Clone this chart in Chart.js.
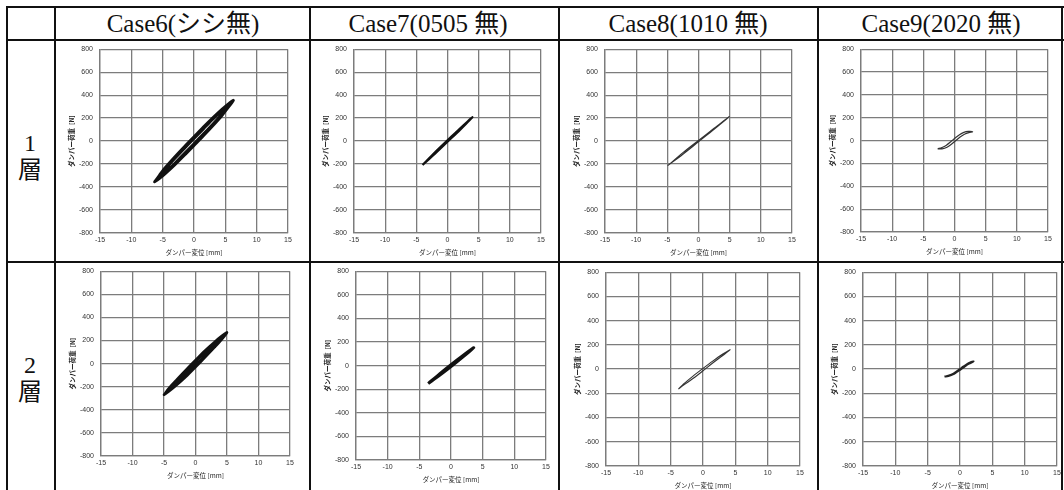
<!DOCTYPE html>
<html>
<head>
<meta charset="utf-8">
<script src="https://cdn.jsdelivr.net/npm/chart.js@4.4.0/dist/chart.umd.min.js"></script>
<style>
  body { margin: 0; background: #fff; width: 1064px; height: 490px; overflow: hidden; position: relative;
         font-family: "Liberation Serif", "Noto Sans CJK JP", serif; color: #111; }
  .ln { position: absolute; background: #111; }
  .hd { position: absolute; top: 8px; height: 32px; line-height: 32px; font-size: 25px;
        transform: translateX(-50%); white-space: nowrap; }
  .rl { position: absolute; width: 40px; margin-left: -20px; text-align: center; font-size: 24px; line-height: 26px; }
  canvas { position: absolute; }
</style>
</head>
<body>
<div class="ln" style="left:6px;top:6px;width:1058px;height:2px"></div>
<div class="ln" style="left:6px;top:39px;width:1058px;height:2px"></div>
<div class="ln" style="left:6px;top:261px;width:1058px;height:2px"></div>
<div class="ln" style="left:6px;top:6px;width:2px;height:484px"></div>
<div class="ln" style="left:54px;top:6px;width:2px;height:484px"></div>
<div class="ln" style="left:309px;top:6px;width:2px;height:484px"></div>
<div class="ln" style="left:558px;top:6px;width:2px;height:484px"></div>
<div class="ln" style="left:817px;top:6px;width:2px;height:484px"></div>
<div class="ln" style="left:1061px;top:6px;width:2px;height:484px"></div>

<div class="hd" style="left:183px">Case6(シシ無)</div>
<div class="hd" style="left:428px">Case7(0505 無)</div>
<div class="hd" style="left:688px">Case8(1010 無)</div>
<div class="hd" style="left:941px">Case9(2020 無)</div>

<div class="rl" style="left:30px;top:130px">1</div>
<div class="rl" style="left:30px;top:157px">層</div>
<div class="rl" style="left:30px;top:352px">2</div>
<div class="rl" style="left:30px;top:379px">層</div>

<script>
// 軸
const xTicks = [-15, -10, -5, 0, 5, 10, 15];
const yTicks = [-800, -600, -400, -200, 0, 200, 400, 600, 800];
const xTitle = "ダンパー変位 [mm]";
const yTitle = "ダンパー荷重  [N]";

// 1層
const case6L1X = [-6.3, -5.5, -4.5, -3, -1.5, 0, 1.5, 3, 4.5, 5.5, 6.3, 5.5, 4.5, 3, 1.5, 0, -1.5, -3, -4.5, -5.5, -6.3,
                  -5.8, -4.5, -3, -1.5, 0, 1.5, 3, 4.5, 5.8, 4.5, 3, 1.5, 0, -1.5, -3, -4.5, -5.8];
const case6L1Y = [-355, -295, -225, -133, -46, 38, 122, 203, 279, 325, 355, 295, 225, 133, 46, -38, -122, -203, -279, -325, -355,
                  -330, -240, -148, -62, 22, 106, 190, 266, 330, 240, 148, 62, -22, -106, -190, -266, -330];
const case7L1X = [-4, -2, 0, 2, 4, 2, 0, -2, -4];
const case7L1Y = [-208, -98, 6, 110, 208, 98, -6, -110, -208];
const case8L1X = [-4.95, -2.5, 0, 2.5, 4.95, 2.5, 0, -2.5, -4.95];
const case8L1Y = [-214, -100, 6, 112, 214, 102, -6, -114, -214];
const case9L1X = [-2.7, -2.0, -1.2, -0.5, 0.2, 0.9, 1.6, 2.3, 2.9, 2.2, 1.5, 0.8, 0.1, -0.6, -1.3, -2.0, -2.7];
const case9L1Y = [-72, -72, -58, -32, 0, 32, 56, 70, 77, 80, 72, 52, 22, -10, -40, -60, -72];

// 2層
const case6L2X = [-5, -4.2, -3, -1.5, 0, 1.5, 3, 4.2, 5, 4.2, 3, 1.5, 0, -1.5, -3, -4.2, -5,
                  -4.6, -3, -1.5, 0, 1.5, 3, 4.6, 3, 1.5, 0, -1.5, -3, -4.6];
const case6L2Y = [-270, -212, -140, -54, 30, 112, 186, 240, 270, 212, 140, 54, -30, -112, -186, -240, -270,
                  -250, -150, -67, 16, 97, 174, 250, 150, 67, -16, -97, -174, -250];
const case7L2X = [-3.6, -1.8, 0, 1.8, 3.6, 1.8, 0, -1.8, -3.6];
const case7L2Y = [-152, -70, 8, 82, 152, 70, -8, -82, -152];
const case8L2X = [-3.8, -3, -1.5, 0, 1.5, 3, 4.2, 3, 1.5, 0, -1.5, -3, -3.8];
const case8L2Y = [-165, -122, -56, 6, 66, 122, 160, 110, 50, -14, -76, -132, -165];
const case9L2X = [-2.4, -1.8, -1.0, -0.4, 0, 0.5, 1.1, 1.6, 2.1, 1.6, 1.1, 0.5, 0, -0.5, -1.1, -1.8, -2.4];
const case9L2Y = [-62, -55, -38, -15, 0, 20, 42, 55, 63, 50, 36, 12, -6, -24, -44, -58, -62];

// 配置 [左, 上, 右, 下] (プロット領域)
const panels = [
  { x: case6L1X, y: case6L1Y, box: [100, 46, 288, 233], lw: 2.8, col: "#111" },
  { x: case7L1X, y: case7L1Y, box: [354, 46, 541, 233], lw: 2.2, col: "#111" },
  { x: case8L1X, y: case8L1Y, box: [605, 46, 792, 233], lw: 1.1, col: "#333" },
  { x: case9L1X, y: case9L1Y, box: [861, 46, 1048, 232], lw: 1.2, col: "#333" },
  { x: case6L2X, y: case6L2Y, box: [101, 268, 290, 456], lw: 2.6, col: "#111" },
  { x: case7L2X, y: case7L2Y, box: [356, 268, 546, 460], lw: 3, col: "#111" },
  { x: case8L2X, y: case8L2Y, box: [606, 269, 800, 466], lw: 1.1, col: "#333" },
  { x: case9L2X, y: case9L2Y, box: [863, 269, 1057, 466], lw: 2, col: "#222" }
];

const L = 34, T = 8, R = 12, B = 25;
const GRID = "#7c7c7c";

panels.forEach(p => {
  const [x0, y0, x1, y1] = p.box;
  const cv = document.createElement("canvas");
  cv.width = x1 - x0 + L + R;
  cv.height = y1 - y0 + T + B;
  cv.style.left = (x0 - L) + "px";
  cv.style.top = (y0 - T) + "px";
  document.body.appendChild(cv);

  const pts = p.x.map((v, i) => ({ x: v, y: p.y[i] }));

  new Chart(cv.getContext("2d"), {
    type: "scatter",
    data: {
      datasets: [{
        data: pts,
        showLine: true,
        borderColor: p.col,
        borderWidth: p.lw,
        pointRadius: 0,
        tension: 0.3
      }]
    },
    options: {
      responsive: false,
      animation: false,
      layout: { padding: { top: T, right: R, left: 0, bottom: 0 } },
      plugins: { legend: { display: false }, tooltip: { enabled: false } },
      scales: {
        x: {
          min: -15, max: 15,
          afterFit: s => { s.height = B; },
          afterBuildTicks: s => { s.ticks = xTicks.map(v => ({ value: v })); },
          ticks: { autoSkip: false, maxRotation: 0, padding: 3, color: "#333",
                   font: { family: "Liberation Sans", size: 7 } },
          grid: { color: GRID, lineWidth: 1.3, drawTicks: false },
          border: { color: GRID, width: 1.3 },
          title: { display: true, text: xTitle, color: "#222", padding: { top: 0, bottom: 2 },
                   font: { family: "Noto Sans CJK JP", size: 6.5 } }
        },
        y: {
          min: -800, max: 800,
          afterFit: s => { s.width = L; },
          afterBuildTicks: s => { s.ticks = yTicks.map(v => ({ value: v })); },
          ticks: { autoSkip: false, padding: 7, color: "#333",
                   font: { family: "Liberation Sans", size: 7 } },
          grid: { color: GRID, lineWidth: 1.3, drawTicks: false },
          border: { color: GRID, width: 1.3 },
          title: { display: true, text: yTitle, color: "#222", padding: { top: 2, bottom: 0 },
                   font: { family: "Noto Sans CJK JP", size: 6.5, weight: "bold" } }
        }
      }
    }
  });
});
</script>
</body>
</html>
